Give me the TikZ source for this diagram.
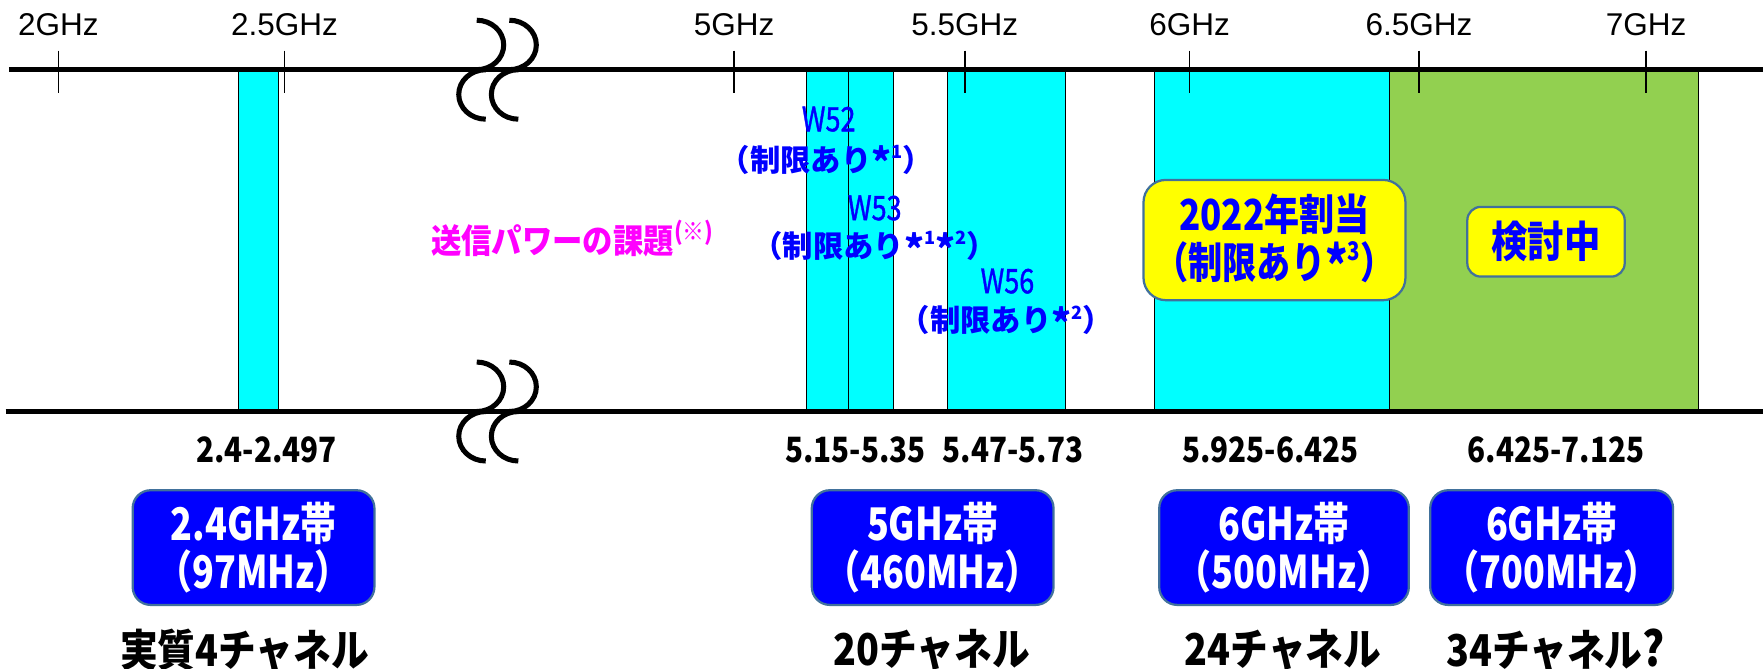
\documentclass[tikz,border=0pt]{standalone}
\usepackage{fontspec}
\usepackage{graphicx}
\setmainfont{Liberation Sans}
\newfontfamily\jp{Noto Sans CJK JP}
\newfontfamily\jpmed[FakeBold=1.2]{Noto Sans CJK JP}
\definecolor{bcyan}{RGB}{0,255,255}
\definecolor{bgreen}{RGB}{146,208,80}
\definecolor{bblue}{RGB}{0,0,255}
\definecolor{byellow}{RGB}{255,255,0}
\definecolor{bedge}{RGB}{65,113,156}
\definecolor{bmag}{RGB}{255,0,255}
\newcommand{\hsc}[2]{\scalebox{#1}[1]{#2}}
\newcommand{\fsz}[1]{\fontsize{#1}{#1}\selectfont}
\newcommand{\upn}[1]{\raisebox{0.42em}{\scalebox{0.6}{#1}}}
\newcommand{\myast}{\raisebox{-0.18em}{\scalebox{1.25}{*}}}
\newcommand{\brksym}[2]{%
  \draw[brkline] (#1,#2-44) arc[start angle=90,end angle=-90,x radius=24pt,y radius=22pt];
  \draw[brkline] (#1+8,#2) arc[start angle=90,end angle=270,x radius=24pt,y radius=22pt];
}
\tikzset{
  cyanband/.style={draw=black, line width=1pt, fill=bcyan},
  greenband/.style={draw=black, line width=1pt, fill=bgreen},
  axisline/.style={line width=4.5pt, black},
  tickline/.style={line width=1.5pt, black},
  ticklab/.style={font=\fsz{28}, inner sep=0pt},
  brkline/.style={line width=4.5pt, black},
  rnglab/.style={font=\jp\bfseries\fsz{31}, inner sep=0pt},
  bluebox/.style={draw=bedge, line width=2pt, fill=bblue, rounded corners=16pt, minimum height=102pt, text=white, font=\jp\bfseries\fontsize{40}{42}\selectfont, align=center, inner sep=0pt},
  chlab/.style={font=\jp\bfseries\fsz{39}, inner sep=0pt},
  wlab/.style={text=bblue, font=\jpmed\fsz{30}, inner sep=0pt},
  rlab/.style={text=bblue, font=\jp\bfseries\fsz{27}, inner sep=0pt},
  yellowbox/.style={draw=bedge, line width=2pt, fill=byellow, text=bblue, font=\jp\bfseries\fontsize{38}{42}\selectfont, align=center, inner sep=0pt},
  maglab/.style={text=bmag, font=\jp\bfseries\fsz{30}, inner sep=0pt},
}
\begin{document}
\begin{tikzpicture}[x=1pt,y=-1pt]
\useasboundingbox[fill=white] (0,0) rectangle (1568,595);
% bands
\draw[cyanband] (212,62) rectangle (248,366);
\draw[cyanband] (717,62) rectangle (755,366);
\draw[cyanband] (755,62) rectangle (795,366);
\draw[cyanband] (843,62) rectangle (948,366);
\draw[cyanband] (1027,62) rectangle (1236,366);
\draw[greenband] (1236,62) rectangle (1511,366);
% axis lines
\draw[axisline] (8,62) -- (1568,62);
\draw[axisline] (5,366) -- (1568,366);
% ticks
\foreach \x/\t [count=\i] in {52/2GHz, 253/2.5GHz, 653/5GHz, 858/5.5GHz, 1058/6GHz, 1262/6.5GHz, 1464/7GHz} {
  \draw[tickline] (\x,45) -- (\x,83);
  \node[ticklab] (t\i) at (\x,22) {\t};
}
% break symbols
\brksym{424}{62}
\brksym{453}{62}
\brksym{424}{366}
\brksym{453}{366}
% labels inside chart
\node[wlab] (w52) at (737,106) {\hsc{0.8}{W52}};
\node[rlab] (w52r) at (735,143) {（制限あり\myast\upn{1}）};
\node[wlab] (w53) at (778,185) {\hsc{0.8}{W53}};
\node[rlab] (w53r) at (778,220) {（制限あり\myast\upn{1}\myast\upn{2}）};
\node[wlab] (w56) at (896,250) {\hsc{0.8}{W56}};
\node[rlab] (w56r) at (895,286) {（制限あり\myast\upn{2}）};
\node[maglab] (mag) at (509,212) {\hsc{0.9}{送信パワーの課題\raisebox{0.4em}{\scalebox{0.72}{(※)}}}};
\node[yellowbox, rounded corners=20pt, minimum width=233pt, minimum height=107pt] (y1) at (1133.5,213.5) {\hsc{0.82}{2022年割当}\\\hsc{0.8}{（制限あり\myast\upn{3}）}};
\node[yellowbox, rounded corners=12pt, minimum width=140pt, minimum height=62pt] (y2) at (1375,215) {\hsc{0.85}{検討中}};
% range labels
\node[rnglab] (r1) at (237,400) {\hsc{0.85}{2.4-2.497}};
\node[rnglab] (r2) at (761,400) {\hsc{0.85}{5.15-5.35}};
\node[rnglab] (r3) at (901,400) {\hsc{0.85}{5.47-5.73}};
\node[rnglab] (r4) at (1130,400) {\hsc{0.85}{5.925-6.425}};
\node[rnglab] (r5) at (1384,400) {\hsc{0.85}{6.425-7.125}};
% band boxes
\node[bluebox, minimum width=215pt] (b1) at (225.5,487) {\hsc{0.8}{2.4GHz帯}\\\hsc{0.8}{（97MHz）}};
\node[bluebox, minimum width=215pt] (b2) at (829.5,487) {\hsc{0.8}{5GHz帯}\\\hsc{0.8}{（460MHz）}};
\node[bluebox, minimum width=222pt] (b3) at (1142,487) {\hsc{0.8}{6GHz帯}\\\hsc{0.8}{（500MHz）}};
\node[bluebox, minimum width=216pt] (b4) at (1380,487) {\hsc{0.8}{6GHz帯}\\\hsc{0.8}{（700MHz）}};
% channel labels
\node[chlab] (c1) at (217.5,578) {\hsc{0.86}{実質4チャネル}};
\node[chlab] (c2) at (828.5,578) {\hsc{0.86}{20チャネル}};
\node[chlab] (c3) at (1141,578) {\hsc{0.86}{24チャネル}};
\node[chlab] (c4) at (1383.5,578) {\hsc{0.86}{34チャネル\scalebox{1.1}{?}}};
\end{tikzpicture}
\end{document}
